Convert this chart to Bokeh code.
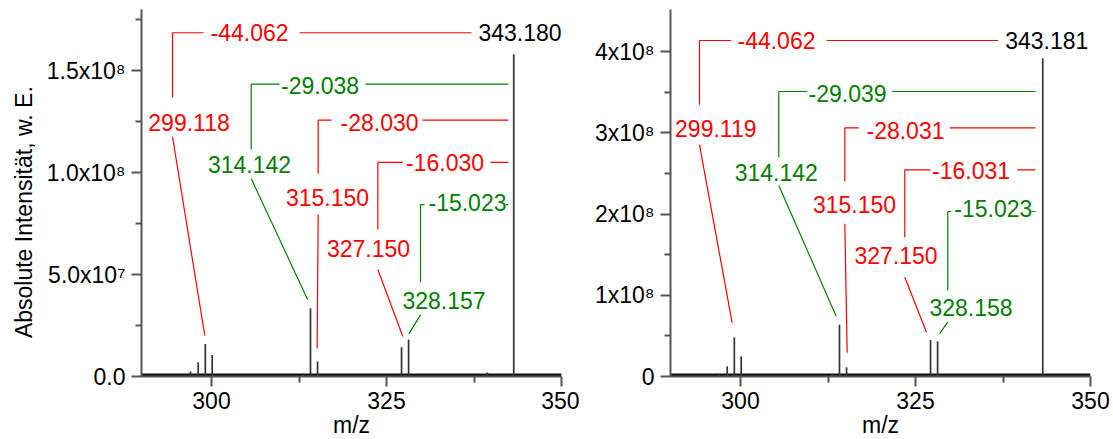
from math import pi
from bokeh.plotting import figure
from bokeh.models import FixedTicker, Range1d, CustomJSTickFormatter, ColumnDataSource
from bokeh.layouts import row
from bokeh.embed import file_html
from bokeh.resources import INLINE
from bokeh.core.properties import value

FONT = "Liberation Sans"
FS = "23px"
RED = "#ff0000"
GREEN = "#008000"
AXIS = "#555555"

# ---------------- data ----------------
x_ticks = [300, 325, 350]
x_minor = [312.5, 337.5]
x_title = "m/z"
y_title = "Absolute Intensität, w. E."

# left spectrum
L_peak_mz = [297.0, 298.1, 299.118, 300.1, 313.1, 314.142, 315.150, 327.150, 328.157, 339.4, 343.180]
L_peak_int = [2.5e6, 7.0e6, 1.60e7, 1.06e7, 1.5e6, 3.35e7, 7.3e6, 1.44e7, 1.81e7, 2.0e6, 1.58e8]
L_noise = 7e5
L_y_ticks = [0, 5e7, 1e8, 1.5e8]
L_y_minor = [2.5e7, 7.5e7, 1.25e8, 1.75e8]
L_y_labels = ["0.0", "5.0x10\u2077", "1.0x10\u2078", "1.5x10\u2078"]

# right spectrum
R_peak_mz = [296.9, 298.1, 299.119, 300.1, 313.1, 314.142, 315.150, 327.150, 328.158, 343.181]
R_peak_int = [2.0e6, 1.27e7, 4.83e7, 2.5e7, 3.5e6, 6.36e7, 1.15e7, 4.5e7, 4.35e7, 3.92e8]
R_noise = 1.7e6
R_y_ticks = [0, 1e8, 2e8, 3e8, 4e8]
R_y_minor = [0.5e8, 1.5e8, 2.5e8, 3.5e8]
R_y_labels = ["0", "1x10\u2078", "2x10\u2078", "3x10\u2078", "4x10\u2078"]

# annotation texts
L_parent = "343.180"
L_diff_text = ["-44.062", "-29.038", "-28.030", "-16.030", "-15.023"]
L_mass_text = ["299.118", "314.142", "315.150", "327.150", "328.157"]
R_parent = "343.181"
R_diff_text = ["-44.062", "-29.039", "-28.031", "-16.031", "-15.023"]
R_mass_text = ["299.119", "314.142", "315.150", "327.150", "328.158"]
ann_colors = [RED, GREEN, RED, RED, GREEN]

# annotation layout (data units)
L_layout = dict(
    parent=(344.07, 1.686e8),
    level=[1.686e8, 1.434e8, 1.257e8, 1.050e8, 8.43e7],
    bracket_x=[294.43, 305.67, 315.24, 323.76, 329.86],
    diff_x=[305.43, 315.5, 324.0, 333.36, 336.57],
    diff_y=[1.686e8, 1.426e8, 1.245e8, 1.049e8, 8.53e7],
    left_end=[298.86, 309.71, 317.14, 327.37, 330.43],
    right_start=[312.57, 322.0, 330.14, 339.86, 342.07],
    right_end=[337.14, 342.39, 342.43, 342.43, 342.39],
    vert_end=[1.368e8, 1.113e8, 9.95e7, 7.21e7, 4.62e7],
    mass_x=[296.79, 305.43, 316.57, 322.43, 333.21],
    mass_y=[1.245e8, 1.039e8, 8.77e7, 6.29e7, 3.73e7],
    slant_y0=[1.176e8, 9.71e7, 7.94e7, 5.25e7, 3.02e7],
    slant_x1=[299.04, 313.74, 315.09, 327.33, 328.19],
    slant_y1=[2.01e7, 3.77e7, 1.37e7, 1.96e7, 2.09e7],
)
R_layout = dict(
    parent=(343.76, 4.138e8),
    level=[4.138e8, 3.510e8, 3.063e8, 2.546e8, 2.032e8],
    bracket_x=[294.14, 305.47, 314.9, 323.47, 329.61],
    diff_x=[305.14, 315.29, 323.57, 332.93, 336.11],
    diff_y=[4.138e8, 3.485e8, 3.030e8, 2.537e8, 2.065e8],
    left_end=[298.67, 309.53, 316.9, 327.14, 330.1],
    right_start=[312.29, 321.67, 329.9, 339.53, 341.57],
    right_end=[336.81, 342.14, 342.14, 342.14, 342.14],
    vert_end=[3.346e8, 2.701e8, 2.402e8, 1.716e8, 1.059e8],
    mass_x=[296.47, 305.11, 316.29, 322.21, 332.93],
    mass_y=[3.051e8, 2.509e8, 2.115e8, 1.490e8, 8.46e7],
    slant_y0=[2.854e8, 2.352e8, 1.881e8, 1.223e8, 6.69e7],
    slant_x1=[298.81, 313.67, 315.24, 326.57, 328.43],
    slant_y1=[6.61e7, 7.43e7, 2.92e7, 5.46e7, 5.26e7],
)


def make_panel(border_left, border_right, ymax, peak_mz, peak_int, noise,
               y_ticks, y_minor, y_labels, parent_text, diff_text, mass_text, lay,
               ytitle=None):
    p = figure(frame_width=420, frame_height=367, x_range=Range1d(290, 350),
               y_range=Range1d(0, ymax), output_backend="svg", toolbar_location=None,
               min_border_left=border_left, min_border_right=border_right,
               min_border_top=9, min_border_bottom=0)
    p.outline_line_color = None
    p.grid.visible = False
    p.background_fill_color = "white"
    p.border_fill_color = "white"

    for ax in (p.xaxis[0], p.yaxis[0]):
        ax.axis_line_color = AXIS
        ax.axis_line_width = 2
        ax.major_tick_line_color = AXIS
        ax.minor_tick_line_color = AXIS
        ax.major_tick_line_width = 2
        ax.minor_tick_line_width = 2
        ax.major_tick_in = 0
        ax.minor_tick_in = 0
        ax.major_tick_out = 10
        ax.minor_tick_out = 6
        ax.major_label_text_font = FONT
        ax.major_label_text_font_size = FS
        ax.major_label_text_color = "black"
        ax.axis_label_text_font = FONT
        ax.axis_label_text_font_size = FS
        ax.axis_label_text_font_style = "normal"
        ax.axis_label_text_color = "black"
    p.xaxis.ticker = FixedTicker(ticks=x_ticks, minor_ticks=x_minor)
    p.xaxis.major_label_standoff = 5
    p.xaxis.axis_label = x_title
    p.xaxis.axis_label_standoff = 0
    p.yaxis.ticker = FixedTicker(ticks=y_ticks, minor_ticks=y_minor)
    p.yaxis.major_label_standoff = 6
    p.yaxis.formatter = CustomJSTickFormatter(
        args=dict(tick_values=y_ticks, tick_texts=y_labels),
        code="const i = tick_values.indexOf(tick); return i < 0 ? '' : tick_texts[i];")
    if ytitle is not None:
        # trailing no-break spaces shift the rotated title down to where the reference has it
        p.yaxis.axis_label = ytitle + "\u00a0" * 6
        p.yaxis.axis_label_standoff = 7

    # spectrum
    p.line(x=[290, 350], y=[noise, noise], line_color="#111111", line_width=3)
    src = ColumnDataSource(dict(x=peak_mz, y0=[0] * len(peak_mz), y1=peak_int))
    p.segment(x0="x", y0="y0", x1="x", y1="y1", source=src, line_color="#333333", line_width=1.7)

    # annotation leader lines
    x0, y0, x1, y1, cols = [], [], [], [], []
    for i in range(len(diff_text)):
        bx, lv = lay["bracket_x"][i], lay["level"][i]
        segs = [
            (bx, lv, lay["left_end"][i], lv),
            (lay["right_start"][i], lv, lay["right_end"][i], lv),
            (bx, lv, bx, lay["vert_end"][i]),
            (bx, lay["slant_y0"][i], lay["slant_x1"][i], lay["slant_y1"][i]),
        ]
        for s in segs:
            x0.append(s[0]); y0.append(s[1]); x1.append(s[2]); y1.append(s[3])
            cols.append(ann_colors[i])
    p.segment(x0=x0, y0=y0, x1=x1, y1=y1, line_color=cols, line_width=1.2)

    tsrc = ColumnDataSource(dict(x=lay["diff_x"] + lay["mass_x"] + [lay["parent"][0]],
                                 y=lay["diff_y"] + lay["mass_y"] + [lay["parent"][1]],
                                 t=diff_text + mass_text + [parent_text],
                                 c=ann_colors + ann_colors + ["black"]))
    p.text(x="x", y="y", text="t", text_color="c", source=tsrc, text_font=value(FONT),
           text_font_size=FS, text_align="center", text_baseline="middle")
    return p


p1 = make_panel(141, 18, 1.8e8, L_peak_mz, L_peak_int, L_noise, L_y_ticks, L_y_minor,
                L_y_labels, L_parent, L_diff_text, L_mass_text, L_layout, ytitle=y_title)
p2 = make_panel(91, 23, 4.52e8, R_peak_mz, R_peak_int, R_noise, R_y_ticks, R_y_minor,
                R_y_labels, R_parent, R_diff_text, R_mass_text, R_layout)

layout = row(p1, p2)
open("out.html", "w").write(file_html(layout, INLINE))
